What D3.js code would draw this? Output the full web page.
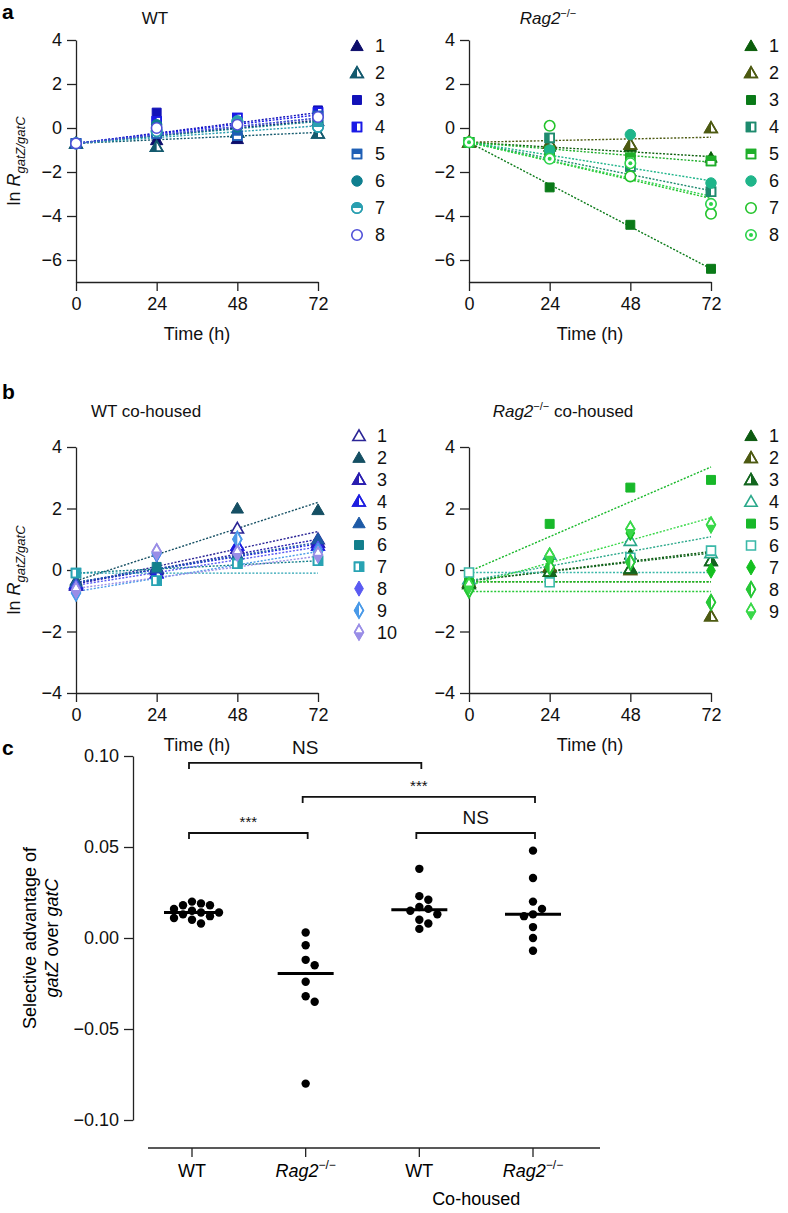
<!DOCTYPE html>
<html><head><meta charset="utf-8">
<script src="https://cdn.jsdelivr.net/npm/d3@7"></script>
<style>body{margin:0;background:#fff;} svg{display:block;font-family:"Liberation Sans",Arial,sans-serif;}</style>
</head><body>
<svg id="c" width="788" height="1213"></svg>
<script>
// ---------------- DATA ----------------
const times = [0, 24, 48, 72];
const yTicksA = [-6, -4, -2, 0, 2, 4];
const yTicksB = [-4, -2, 0, 2, 4];

// Panel a, WT (ln R at 0,24,48,72 h) and fitted lines (value at 0 h, value at 72 h)
const aWTvals = [
  [-0.7, -0.55, -0.5, 0.3],
  [-0.7, -0.85, -0.2, -0.25],
  [-0.7, 0.7, 0.3, 0.8],
  [-0.7, 0.3, 0.45, 0.7],
  [-0.7, -0.25, -0.35, 0.55],
  [-0.7, 0.15, 0.05, 0.25],
  [-0.7, -0.15, 0.3, 0.05],
  [-0.7, 0.0, 0.15, 0.5]
];
const aWTfitStart = [-0.7, -0.7, -0.7, -0.7, -0.7, -0.7, -0.7, -0.7];
const aWTfitEnd = [0.35, -0.2, 0.7, 0.6, 0.45, 0.3, 0.1, 0.45];

// Panel a, Rag2-/-
const aRagVals = [
  [-0.65, -0.85, -0.85, -1.35],
  [-0.65, -0.7, -0.75, 0.0],
  [-0.65, -2.7, -4.4, -6.4],
  [-0.65, -0.45, -1.75, -2.9],
  [-0.65, -1.05, -1.35, -1.5],
  [-0.65, -1.0, -0.3, -2.5],
  [-0.65, 0.1, -2.2, -3.9],
  [-0.65, -1.4, -1.6, -3.45]
];
const aRagFitStart = [-0.65, -0.65, -0.65, -0.65, -0.65, -0.65, -0.65, -0.65];
const aRagFitEnd = [-1.3, -0.42, -6.4, -2.85, -1.55, -2.4, -3.2, -3.1];

// Panel b, WT co-housed
const bWTvals = [
  [-0.45, 0.0, 1.35, 1.0],
  [-0.35, 0.1, 2.0, 1.95],
  [-0.5, 0.05, 0.7, 0.9],
  [-0.45, -0.1, 0.8, 0.8],
  [-0.4, 0.05, 0.5, 1.0],
  [-0.1, 0.1, 0.25, 0.35],
  [-0.1, -0.35, 0.2, 0.3],
  [-0.55, 0.5, 0.6, 0.7],
  [-0.75, 0.55, 1.0, 0.6],
  [-0.65, 0.6, 0.55, 0.5]
];
const bWTfitStart = [-0.45, -0.35, -0.45, -0.4, -0.4, -0.1, -0.1, -0.5, -0.7, -0.6];
const bWTfitEnd = [1.25, 2.2, 1.0, 0.85, 0.9, 0.3, -0.1, 0.75, 0.6, 0.45];

// Panel b, Rag2-/- co-housed
const bRagVals = [
  [-0.35, 0.05, 0.5, 0.3],
  [-0.4, 0.1, 0.0, -1.5],
  [-0.45, -0.05, 0.05, 0.3],
  [-0.3, 0.5, 0.95, 0.55],
  [-0.4, 1.5, 2.68, 2.93],
  [-0.08, -0.4, 0.4, 0.63],
  [-0.6, 0.35, 1.2, -0.02],
  [-0.65, 0.1, 0.25, -1.05],
  [-0.5, 0.46, 1.33, 1.47]
];
const bRagFitStart = [-0.35, -0.38, -0.35, -0.35, -0.05, -0.08, -0.38, -0.7, -0.5];
const bRagFitEnd = [0.6, -0.38, 0.55, 1.08, 3.35, -0.08, -0.38, -0.7, 1.7];

// Panel c, selective advantage of gatZ over gatC
const cCategories = ["WT", "Rag2", "WTco", "Rag2co"];
const cWT = [0.020, 0.019, 0.018, 0.018, 0.016, 0.015, 0.014, 0.014, 0.013, 0.012, 0.011, 0.010, 0.008];
const cRag = [0.003, -0.004, -0.012, -0.015, -0.024, -0.032, -0.035, -0.080];
const cWTco = [0.038, 0.023, 0.021, 0.017, 0.016, 0.015, 0.013, 0.010, 0.008, 0.005];
const cRagco = [0.048, 0.033, 0.020, 0.016, 0.013, 0.012, 0.006, 0.000, -0.007];
const cTicks = [-0.10, -0.05, 0.00, 0.05, 0.10];
// significance brackets: [from category, to category, level, label]
const cBrackets = [
  [0, 2, 0.0962, "NS"],
  [1, 3, 0.0775, "***"],
  [0, 1, 0.0577, "***"],
  [2, 3, 0.0577, "NS"]
];

// ---------------- STYLES ----------------
const aWTstyle = [
  ["triangle","full","#0d0d6b"],["triangle","left","#145a6e"],["square","full","#1212b8"],["square","left","#1a1ae6"],
  ["square","top","#1f5fb5"],["circle","full","#0f7f8f"],["circle","top","#2a9fb0"],["circle","open","#5050d8"]];
const aRagStyle = [
  ["triangle","full","#0b5e0b"],["triangle","left","#4d5a12"],["square","full","#0a7a18"],["square","left","#1e8a6e"],
  ["square","top","#1fae2a"],["circle","full","#1fb58a"],["circle","open","#22c32a"],["circle","dot","#2bd24a"]];
const bWTstyle = [
  ["triangle","open","#2b2596"],["triangle","full","#154f63"],["triangle","left","#2a1eb0"],["triangle","left","#1e1ee0"],
  ["triangle","full","#1d5aa6"],["square","full","#137f8c"],["square","right","#29a3b3"],["diamond","full","#5a5af2"],
  ["diamond","left","#4a9ae8"],["diamond","bottom","#9a8ee6"]];
const bRagStyle = [
  ["triangle","full","#0c5a10"],["triangle","left","#4d5a12"],["triangle","right","#13661f"],["triangle","open","#2aa88a"],
  ["square","full","#18b82a"],["square","open","#3ab8a8"],["diamond","full","#14c020"],["diamond","left","#28c838"],
  ["diamond","bottom","#3ad84a"]];

const svg = d3.select("#c");
const defs = svg.append("defs");
[["left",-20,-20,20,40],["right",0,-20,20,40],["top",-20,-20,40,20],["bottom",-20,0,40,20]].forEach(c=>{
  defs.append("clipPath").attr("id","clip-"+c[0]).append("rect")
    .attr("x",c[1]).attr("y",c[2]).attr("width",c[3]).attr("height",c[4]);
});
const shapeSizes = {triangle:[d3.symbolTriangle,66], square:[d3.symbolSquare,80], circle:[d3.symbolCircle,86], diamond:[d3.symbolDiamond,66]};
function marker(g, x, y, st){
  const [shape, fill, col] = st;
  const gg = g.append("g").attr("transform",`translate(${x},${y})`);
  const sym = d3.symbol().type(shapeSizes[shape][0]).size(shapeSizes[shape][1])();
  const off = shape === "triangle" ? 1 : 0;
  if (fill === "full") {
    gg.append("path").attr("d",sym).attr("transform",`translate(0,${off})`).attr("fill",col).attr("stroke",col).attr("stroke-width",1);
  } else {
    gg.append("path").attr("d",sym).attr("transform",`translate(0,${off})`).attr("fill","#fff").attr("stroke",col).attr("stroke-width",1.6);
    if (["left","right","top","bottom"].includes(fill)) {
      gg.append("path").attr("d",sym).attr("transform",`translate(0,${off})`).attr("fill",col).attr("clip-path",`url(#clip-${fill})`);
      gg.append("path").attr("d",sym).attr("transform",`translate(0,${off})`).attr("fill","none").attr("stroke",col).attr("stroke-width",1.6);
    }
    if (fill === "dot") gg.append("circle").attr("r",2).attr("fill",col);
  }
}
const fmt = d => d < 0 ? "\u2212" + Math.abs(d) : String(d);

function styleAxis(g){
  g.selectAll("path,line").attr("stroke","#222").attr("stroke-width",1.3);
  g.selectAll("text").attr("fill","#111").attr("font-size",18).attr("font-family","Liberation Sans, Arial, sans-serif");
}

function ylabelR(x, y){
  const t = svg.append("text").attr("transform",`translate(${x},${y}) rotate(-90)`)
    .attr("text-anchor","middle").attr("font-size",18).attr("fill","#111");
  t.append("tspan").text("ln ");
  t.append("tspan").attr("font-style","italic").text("R");
  t.append("tspan").attr("font-style","italic").attr("font-size",13).attr("dy",5).text("gatZ/gatC");
}
function ragTitle(x, y, suffix){
  const t = svg.append("text").attr("x",x).attr("y",y).attr("text-anchor","middle").attr("font-size",17).attr("fill","#111");
  t.append("tspan").attr("font-style","italic").text("Rag2");
  t.append("tspan").attr("font-size",11).attr("dy",-7).text("\u2212/\u2212");
  if (suffix) t.append("tspan").attr("dy",7).text(suffix);
}

function timePanel(cfg, vals, fs, fe, styles){
  const x = d3.scaleLinear().domain([0,72]).range([cfg.left, cfg.right]);
  const y = d3.scaleLinear().domain(cfg.ydom).range([cfg.bottom, cfg.top]);
  const ga = svg.append("g").attr("transform",`translate(${cfg.left},0)`)
    .call(d3.axisLeft(y).tickValues(cfg.yticks).tickFormat(fmt).tickSize(9).tickSizeOuter(0).tickPadding(5));
  styleAxis(ga);
  const gx = svg.append("g").attr("transform",`translate(0,${cfg.bottom})`)
    .call(d3.axisBottom(x).tickValues(times).tickSize(9).tickSizeOuter(0).tickPadding(6));
  styleAxis(gx);
  svg.append("text").attr("x",(cfg.left+cfg.right)/2).attr("y",cfg.bottom+58).attr("text-anchor","middle")
    .attr("font-size",18).attr("fill","#111").text("Time (h)");
  const gl = svg.append("g");
  vals.forEach((v,i)=>{
    gl.append("line").attr("x1",x(0)).attr("x2",x(72)).attr("y1",y(fs[i])).attr("y2",y(fe[i]))
      .attr("stroke",styles[i][2]).attr("stroke-width",1.4).attr("stroke-dasharray","2,1.6");
  });
  const gm = svg.append("g");
  vals.forEach((v,i)=>{
    v.forEach((val,j)=> marker(gm, x(times[j]), y(val), styles[i]));
  });
  // legend
  styles.forEach((st,i)=>{
    const ly = cfg.legY + i*cfg.legDy;
    marker(svg, cfg.legX, ly, st);
    svg.append("text").attr("x",cfg.legX+18).attr("y",ly).attr("dy","0.36em").attr("font-size",18)
      .attr("fill","#111").text(i+1);
  });
}

// Panel letters
svg.append("text").attr("x",2).attr("y",19).attr("font-weight","bold").attr("font-size",21).text("a");
svg.append("text").attr("x",2).attr("y",399).attr("font-weight","bold").attr("font-size",21).text("b");
svg.append("text").attr("x",2).attr("y",755).attr("font-weight","bold").attr("font-size",21).text("c");

// Panel a
timePanel({left:76,right:318,top:40,bottom:282,ydom:[-7,4],yticks:yTicksA,legX:357,legY:46,legDy:27}, aWTvals, aWTfitStart, aWTfitEnd, aWTstyle);
timePanel({left:469,right:711,top:40,bottom:282,ydom:[-7,4],yticks:yTicksA,legX:751,legY:46,legDy:27}, aRagVals, aRagFitStart, aRagFitEnd, aRagStyle);
svg.append("text").attr("x",155).attr("y",24).attr("text-anchor","middle").attr("font-size",17).attr("fill","#111").text("WT");
ragTitle(548, 24, "");
ylabelR(20, 161);

// Panel b
timePanel({left:76,right:318,top:447,bottom:693,ydom:[-4,4],yticks:yTicksB,legX:359,legY:436,legDy:21.8}, bWTvals, bWTfitStart, bWTfitEnd, bWTstyle);
timePanel({left:469,right:711,top:447,bottom:693,ydom:[-4,4],yticks:yTicksB,legX:751,legY:436,legDy:21.9}, bRagVals, bRagFitStart, bRagFitEnd, bRagStyle);
svg.append("text").attr("x",146).attr("y",417).attr("text-anchor","middle").attr("font-size",17).attr("fill","#111").text("WT co-housed");
ragTitle(563, 417, " co-housed");
ylabelR(20, 570);

// Panel c
(function(){
  const x = d3.scalePoint().domain(cCategories).range([192, 533]);
  const y = d3.scaleLinear().domain([-0.10, 0.10]).range([1120, 756]);
  const ga = svg.append("g").attr("transform","translate(133,0)")
    .call(d3.axisLeft(y).tickValues(cTicks).tickFormat(d=> (d<0?"\u2212":"") + Math.abs(d).toFixed(2)).tickSize(9).tickSizeOuter(0).tickPadding(5));
  styleAxis(ga);
  const axY = 1148;
  const gx = svg.append("g").attr("transform",`translate(0,${axY})`);
  gx.append("line").attr("x1",148).attr("x2",600).attr("stroke","#222").attr("stroke-width",1.3);
  cCategories.forEach(c=>{
    gx.append("line").attr("x1",x(c)).attr("x2",x(c)).attr("y1",0).attr("y2",9).attr("stroke","#222").attr("stroke-width",1.3);
  });
  const labY = 1177;
  svg.append("text").attr("x",x("WT")).attr("y",labY).attr("text-anchor","middle").attr("font-size",18).text("WT");
  svg.append("text").attr("x",x("WTco")).attr("y",labY).attr("text-anchor","middle").attr("font-size",18).text("WT");
  [x("Rag2"), x("Rag2co")].forEach(px=>{
    const t = svg.append("text").attr("x",px).attr("y",labY).attr("text-anchor","middle").attr("font-size",18);
    t.append("tspan").attr("font-style","italic").text("Rag2");
    t.append("tspan").attr("font-size",12).attr("dy",-8).text("\u2212/\u2212");
  });
  svg.append("text").attr("x",(x("WTco")+x("Rag2co"))/2).attr("y",1205).attr("text-anchor","middle").attr("font-size",18).text("Co-housed");
  // y label
  svg.append("text").attr("transform","translate(36,938) rotate(-90)").attr("text-anchor","middle").attr("font-size",18).text("Selective advantage of");
  const t2 = svg.append("text").attr("transform","translate(58,938) rotate(-90)").attr("text-anchor","middle").attr("font-size",18);
  t2.append("tspan").attr("font-style","italic").text("gatZ");
  t2.append("tspan").text(" over ");
  t2.append("tspan").attr("font-style","italic").text("gatC");

  const groups = [cWT, cRag, cWTco, cRagco];
  const r = 4.2;
  groups.forEach((vals, gi)=>{
    const cx = x(cCategories[gi]);
    const placed = [];
    vals.slice().sort((a,b)=>b-a).forEach(v=>{
      const py = y(v);
      let px = cx;
      for (let k = 0; k < 40; k++) {
        const off = (k===0?0:(k%2? 1:-1)*Math.ceil(k/2)*(r*2+0.6));
        px = cx + off;
        if (placed.every(p => Math.hypot(p[0]-px, p[1]-py) >= 2*r+0.4)) break;
      }
      placed.push([px, py]);
      svg.append("circle").attr("cx",px).attr("cy",py).attr("r",r).attr("fill","#000");
    });
    const med = d3.median(vals);
    svg.append("line").attr("x1",cx-28).attr("x2",cx+28).attr("y1",y(med)).attr("y2",y(med)).attr("stroke","#000").attr("stroke-width",3);
  });
  cBrackets.forEach(b=>{
    const x1 = x(cCategories[b[0]]) - 3, x2 = x(cCategories[b[1]]) + 2, yy = y(b[2]);
    svg.append("path").attr("d",`M${x1},${yy+6}V${yy}H${x2}V${yy+6}`).attr("fill","none").attr("stroke","#111").attr("stroke-width",1.8);
    const isStar = b[3] === "***";
    svg.append("text").attr("x",(x1+x2)/2).attr("y",yy - (isStar?6:9)).attr("text-anchor","middle")
      .attr("font-size",isStar?15:19).attr("fill","#111").text(b[3]);
  });
})();
</script>
</body></html>
